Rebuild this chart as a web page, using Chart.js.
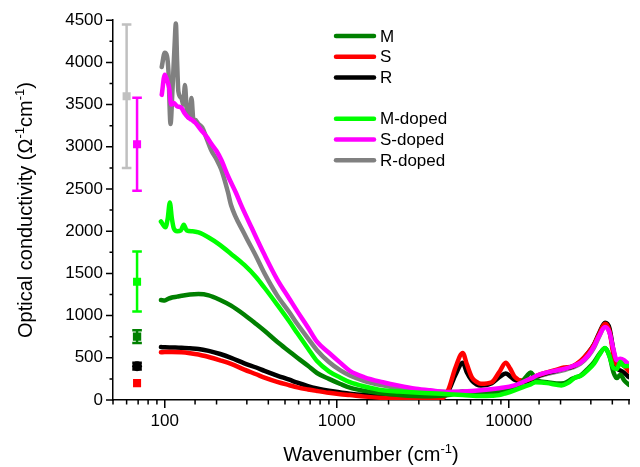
<!DOCTYPE html>
<html>
<head>
<meta charset="utf-8">
<script src="https://cdn.jsdelivr.net/npm/chart.js@4.4.0/dist/chart.umd.min.js"></script>
<style>
  html, body { margin: 0; padding: 0; background: #fff; }
</style>
</head>
<body>
<canvas id="chartCond" width="640" height="467"></canvas>
<script>
// ---- data ----
const seriesLabels = ["M", "S", "R", "M-doped", "S-doped", "R-doped"];

const mX = [95, 100, 105, 110, 118, 125, 140, 157, 180, 210, 243, 290, 340, 380, 450, 530, 590, 680, 767, 900, 1050, 1191, 1450, 1854, 2300, 2878, 3500, 4440, 5000, 5400, 5800, 6900, 7960, 8800, 9600, 10800, 12000, 12800, 13400, 14000, 14600, 16700, 19000, 21000, 23500, 26100, 29000, 31300, 33500, 36300, 38500, 40600, 42500, 44500, 47000, 50000];
const mY = [1185, 1180, 1200, 1215, 1225, 1235, 1250, 1255, 1240, 1185, 1118, 1010, 900, 820, 690, 575, 500, 405, 320, 250, 190, 146, 108, 77, 60, 48, 45, 58, 85, 100, 92, 77, 85, 96, 105, 135, 220, 290, 327, 285, 235, 211, 195, 200, 255, 290, 375, 450, 540, 612, 520, 330, 260, 300, 230, 180];

const sX = [95, 100, 110, 125, 140, 157, 180, 210, 243, 290, 340, 380, 450, 530, 590, 680, 767, 900, 1050, 1191, 1450, 1854, 2300, 2878, 3500, 4000, 4440, 4900, 5400, 5700, 6100, 6500, 6900, 7960, 8800, 9600, 10200, 10800, 12000, 13400, 14600, 16700, 19000, 21000, 23500, 26100, 29000, 31300, 33500, 36300, 38500, 40600, 42500, 44500, 47000, 50000];
const sY = [565, 568, 568, 565, 555, 540, 510, 470, 427, 360, 305, 265, 215, 175, 150, 125, 107, 85, 68, 58, 40, 25, 18, 14, 10, 10, 115, 385, 557, 426, 269, 215, 192, 211, 330, 442, 370, 277, 231, 250, 290, 327, 360, 385, 400, 462, 560, 654, 780, 904, 820, 540, 420, 440, 400, 340];

const rX = sX;
const rY = [627, 625, 622, 618, 612, 605, 582, 545, 500, 435, 385, 346, 290, 240, 205, 165, 138, 110, 90, 75, 58, 42, 32, 25, 20, 22, 100, 300, 442, 330, 230, 185, 173, 200, 270, 315, 280, 240, 215, 235, 280, 320, 350, 375, 395, 455, 560, 660, 790, 915, 850, 580, 380, 350, 320, 270];

const mdX = [95, 101, 104, 107, 110, 113, 118, 124, 129, 134, 145, 157, 180, 210, 243, 290, 340, 380, 450, 530, 590, 680, 767, 900, 1050, 1191, 1450, 1854, 2300, 2878, 3500, 4440, 5400, 6900, 7960, 8800, 9600, 10800, 12000, 13400, 14300, 15500, 16700, 19000, 20200, 22000, 24500, 26100, 29000, 31300, 33500, 36300, 38500, 40600, 42500, 44500, 47000, 50000];
const mdY = [2115, 2046, 2150, 2340, 2150, 2030, 2000, 2010, 2077, 2010, 2000, 1985, 1925, 1835, 1731, 1600, 1455, 1330, 1130, 930, 790, 610, 461, 340, 265, 211, 160, 115, 100, 88, 80, 69, 60, 46, 50, 58, 80, 115, 150, 185, 211, 208, 200, 180, 173, 200, 269, 285, 360, 430, 530, 615, 520, 380, 369, 450, 400, 404];

const sdX = [96, 100, 103, 106, 109, 113, 118, 125, 130, 137, 143, 150, 163, 175, 186, 200, 213, 233, 260, 278, 320, 380, 450, 530, 590, 680, 767, 900, 1050, 1191, 1450, 1854, 2300, 2878, 3500, 4440, 5400, 6900, 8800, 10800, 12000, 13400, 14600, 16700, 19000, 21000, 23500, 26100, 29000, 31300, 33500, 36300, 38500, 40600, 42500, 44500, 47000, 50000];
const sdY = [3615, 3854, 3790, 3700, 3500, 3519, 3480, 3462, 3400, 3346, 3320, 3288, 3196, 3120, 3038, 2950, 2846, 2654, 2450, 2308, 2040, 1720, 1430, 1200, 1050, 860, 692, 560, 440, 346, 269, 211, 170, 135, 115, 96, 100, 115, 140, 173, 210, 254, 290, 327, 350, 369, 400, 442, 530, 635, 760, 865, 800, 600, 470, 490, 470, 420];

const rdX = [96, 100, 103, 105, 108, 111, 114, 116, 118, 120, 125, 128, 131, 134, 137, 140, 143, 147, 150, 157, 165, 175, 186, 200, 213, 233, 243, 290, 340, 380, 450, 530, 590, 680, 767, 900, 1050, 1191, 1450, 1854, 2300, 2878, 3500, 4440, 5400, 6900, 8800, 10800, 12000, 13400, 14600, 16700, 19000, 21000, 23500, 26100, 29000, 31300, 33500, 36300, 38500, 40600, 42500, 44500, 47000, 50000];
const rdY = [3946, 4115, 4077, 3900, 3270, 3700, 4200, 4462, 4000, 3654, 3577, 3500, 3731, 3450, 3346, 3400, 3577, 3300, 3320, 3270, 3230, 3100, 2961, 2850, 2730, 2461, 2308, 1970, 1700, 1500, 1240, 1040, 900, 730, 590, 450, 350, 290, 225, 173, 140, 115, 105, 96, 95, 105, 130, 165, 200, 240, 275, 310, 335, 355, 385, 430, 520, 620, 750, 870, 800, 590, 440, 430, 400, 360];

// dc values with error bars at the left (R-doped, S-doped, M-doped, M, R, S)
const markerX = [60, 69, 69, 69, 69, 69];
const markerY = [3600, 3030, 1400, 750, 400, 200];
const markerLo = [2750, 2480, 1050, 675, 360, 200];
const markerHi = [4450, 3580, 1760, 825, 440, 200];

const xTickLabels = [100, 1000, 10000];
const yTickLabels = [0, 500, 1000, 1500, 2000, 2500, 3000, 3500, 4000, 4500];

// ---- styles ----
const seriesColors = ["#008000", "#ff0000", "#000000", "#00ff00", "#ff00ff", "#808080"];
const seriesOrder = [3, 4, 5, 1, 2, 6];
const markerColors = ["#c0c0c0", "#ff00ff", "#00ff00", "#008000", "#000000", "#ff0000"];
const markerShapes = ["rect", "rect", "rect", "rect", "circle", "rect"];
const markerRadius = [5.7, 5.7, 5.7, 5.9, 5, 5.7];

const FONT = "'Liberation Sans', Arial, sans-serif";
Chart.defaults.font.family = FONT;
Chart.defaults.color = "#000";

const toPoints = (xs, ys) => xs.map((x, i) => ({ x: x, y: ys[i] }));
const seriesData = [[mX, mY], [sX, sY], [rX, rY], [mdX, mdY], [sdX, sdY], [rdX, rdY]];

const lineSets = seriesData.map((d, i) => ({
    label: seriesLabels[i],
    data: toPoints(d[0], d[1]),
    borderColor: seriesColors[i],
    backgroundColor: seriesColors[i],
    borderWidth: 4.5,
    pointRadius: 0,
    fill: false,
    cubicInterpolationMode: "monotone",
    borderJoinStyle: "round",
    borderCapStyle: "round",
    order: seriesOrder[i]
}));

const markerSet = {
    type: "scatter",
    label: "dc",
    data: toPoints(markerX, markerY),
    pointStyle: markerShapes,
    pointRadius: markerRadius,
    pointBackgroundColor: markerColors,
    pointBorderColor: markerColors,
    pointBorderWidth: 0,
    order: 0
};

// error bars for the dc markers
const errorBars = {
    id: "errorBars",
    beforeDatasetsDraw(chart) {
        const { ctx, scales: { x, y } } = chart;
        ctx.save();
        ctx.lineWidth = 2.5;
        markerX.forEach((v, i) => {
            if (markerLo[i] === markerHi[i]) return;
            const px = x.getPixelForValue(v);
            const lo = y.getPixelForValue(markerLo[i]);
            const hi = y.getPixelForValue(markerHi[i]);
            ctx.strokeStyle = markerColors[i];
            ctx.beginPath();
            ctx.moveTo(px, lo); ctx.lineTo(px, hi);
            ctx.moveTo(px - 4.8, lo); ctx.lineTo(px + 4.8, lo);
            ctx.moveTo(px - 4.8, hi); ctx.lineTo(px + 4.8, hi);
            ctx.stroke();
        });
        ctx.restore();
    }
};

// text with superscripts
function drawRich(ctx, parts, size) {
    const supSize = Math.round(size * 0.65);
    let w = 0;
    parts.forEach(p => {
        ctx.font = (p.sup ? supSize : size) + "px " + FONT;
        p.w = ctx.measureText(p.t).width;
        w += p.w;
    });
    let cx = -w / 2;
    parts.forEach(p => {
        ctx.font = (p.sup ? supSize : size) + "px " + FONT;
        ctx.fillText(p.t, cx, p.sup ? -size * 0.38 : 0);
        cx += p.w;
    });
}

// outward ticks, axis titles and legend
const decor = {
    id: "decor",
    afterDraw(chart) {
        const { ctx, chartArea, scales: { x, y } } = chart;
        ctx.save();
        ctx.strokeStyle = "#000";
        ctx.lineWidth = 1.5;
        ctx.beginPath();
        x.ticks.forEach(t => {
            const px = x.getPixelForValue(t.value);
            const lg = Math.log10(t.value);
            const major = Math.abs(lg - Math.round(lg)) < 1e-6;
            ctx.moveTo(px, chartArea.bottom);
            ctx.lineTo(px, chartArea.bottom + (major ? 8 : 4.5));
        });
        y.ticks.forEach(t => {
            const py = y.getPixelForValue(t.value);
            const major = yTickLabels.includes(t.value);
            ctx.moveTo(chartArea.left, py);
            ctx.lineTo(chartArea.left - (major ? 7 : 3.5), py);
        });
        ctx.stroke();

        // axis titles
        ctx.fillStyle = "#000";
        ctx.textBaseline = "alphabetic";
        ctx.textAlign = "left";
        ctx.save();
        ctx.translate((chartArea.left + chartArea.right) / 2, 461);
        drawRich(ctx, [{ t: "Wavenumber (cm" }, { t: "-1", sup: true }, { t: ")" }], 20);
        ctx.restore();
        ctx.save();
        ctx.translate(32, (chartArea.top + chartArea.bottom) / 2);
        ctx.rotate(-Math.PI / 2);
        drawRich(ctx, [{ t: "Optical conductivity (\u03A9" }, { t: "-1", sup: true }, { t: "cm" }, { t: "-1", sup: true }, { t: ")" }], 20);
        ctx.restore();

        // legend
        ctx.font = "17px " + FONT;
        ctx.textBaseline = "middle";
        ctx.lineWidth = 4.5;
        ctx.lineCap = "round";
        seriesLabels.forEach((lab, i) => {
            const ly = 36 + i * 20.7 + (i >= 3 ? 20.7 : 0);
            ctx.strokeStyle = seriesColors[i];
            ctx.beginPath();
            ctx.moveTo(336, ly); ctx.lineTo(374, ly);
            ctx.stroke();
            ctx.fillText(lab, 380, ly + 1);
        });
        ctx.restore();
    }
};

new Chart(document.getElementById("chartCond"), {
    type: "line",
    data: { datasets: [markerSet, ...lineSets] },
    options: {
        responsive: false,
        devicePixelRatio: 1,
        animation: false,
        layout: { padding: { top: 10, right: 4, left: 0, bottom: 0 } },
        plugins: { legend: { display: false }, tooltip: { enabled: false } },
        scales: {
            x: {
                type: "logarithmic",
                min: 50,
                max: 50000,
                grid: { display: false, drawTicks: false },
                border: { display: true, color: "#000", width: 1.5 },
                ticks: {
                    autoSkip: false,
                    maxRotation: 0,
                    padding: 11,
                    font: { size: 17 },
                    callback: v => xTickLabels.includes(v) ? String(v) : ""
                },
                afterFit: s => { s.height = 67; }
            },
            y: {
                type: "linear",
                min: 0,
                max: 4500,
                grid: { display: false, drawTicks: false },
                border: { display: true, color: "#000", width: 1.5 },
                ticks: {
                    stepSize: 250,
                    autoSkip: false,
                    padding: 10,
                    font: { size: 17 },
                    callback: v => yTickLabels.includes(v) ? String(v) : ""
                },
                afterFit: s => { s.width = 113; }
            }
        }
    },
    plugins: [errorBars, decor]
});
</script>
</body>
</html>
